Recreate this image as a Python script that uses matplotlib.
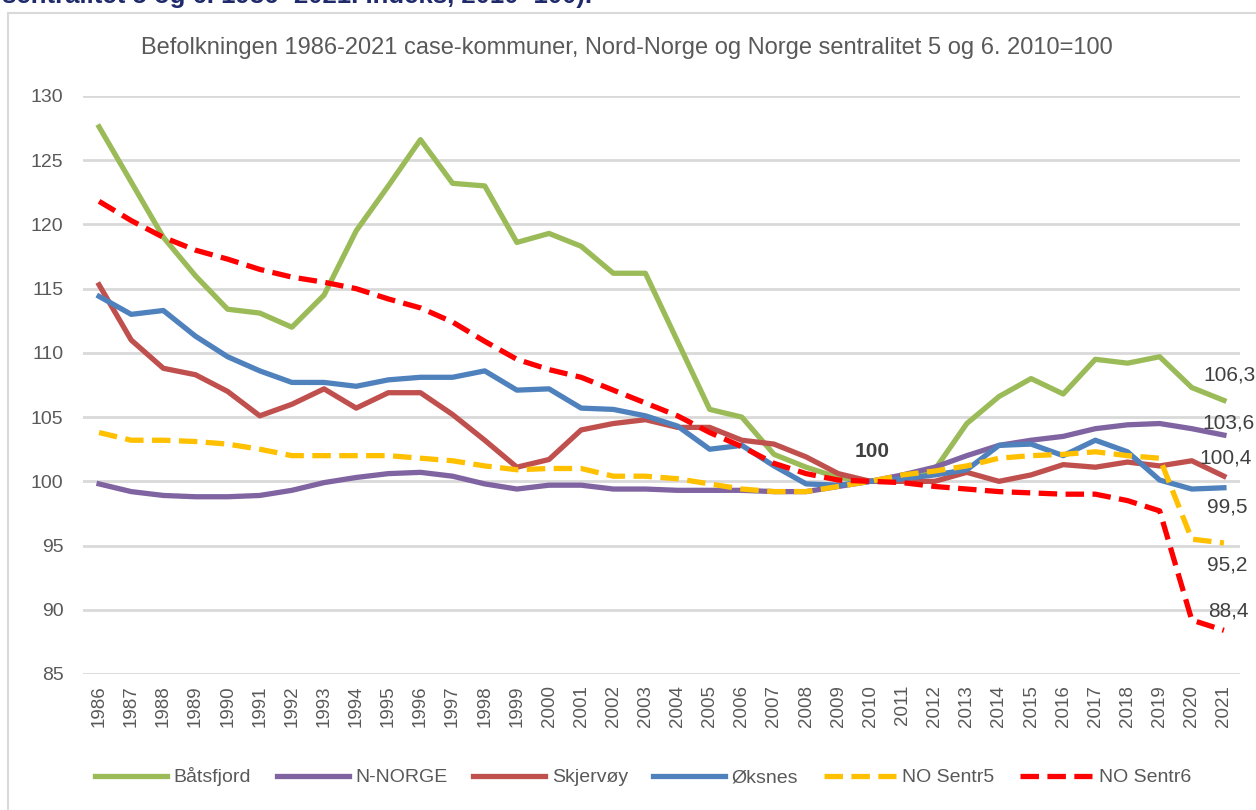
import matplotlib
matplotlib.use("Agg")
import matplotlib.pyplot as plt
from matplotlib.patches import Rectangle

plt.rcParams['font.family'] = ['Liberation Sans', 'DejaVu Sans']

years = list(range(1986, 2022))

batsfjord = [127.6, 123.3, 119.0, 116.0, 113.4, 113.1, 112.0, 114.5, 119.5, 123.0,
             126.6, 123.2, 123.0, 118.6, 119.3, 118.3, 116.2, 116.2, 110.9, 105.6,
             105.0, 102.1, 101.1, 100.3, 100.0, 100.2, 100.9, 104.5, 106.6, 108.0,
             106.8, 109.5, 109.2, 109.7, 107.3, 106.3]
n_norge = [99.8, 99.2, 98.9, 98.8, 98.8, 98.9, 99.3, 99.9, 100.3, 100.6,
           100.7, 100.4, 99.8, 99.4, 99.7, 99.7, 99.4, 99.4, 99.3, 99.3,
           99.3, 99.2, 99.2, 99.6, 100.0, 100.5, 101.1, 102.0, 102.8, 103.2,
           103.5, 104.1, 104.4, 104.5, 104.1, 103.6]
skjervoy = [115.3, 111.0, 108.8, 108.3, 107.0, 105.1, 106.0, 107.2, 105.7, 106.9,
            106.9, 105.2, 103.2, 101.1, 101.7, 104.0, 104.5, 104.8, 104.2, 104.2,
            103.2, 102.9, 101.9, 100.6, 100.0, 100.0, 100.0, 100.7, 100.0, 100.5,
            101.3, 101.1, 101.5, 101.2, 101.6, 100.4]
oksnes = [114.4, 113.0, 113.3, 111.3, 109.7, 108.6, 107.7, 107.7, 107.4, 107.9,
          108.1, 108.1, 108.6, 107.1, 107.2, 105.7, 105.6, 105.1, 104.3, 102.5,
          102.8, 101.2, 99.8, 99.7, 100.0, 100.2, 100.5, 100.9, 102.8, 102.9,
          102.0, 103.2, 102.3, 100.1, 99.4, 99.5]
sentr5 = [103.8, 103.2, 103.2, 103.1, 102.9, 102.5, 102.0, 102.0, 102.0, 102.0,
          101.8, 101.6, 101.2, 100.9, 101.0, 101.0, 100.4, 100.4, 100.2, 99.8,
          99.4, 99.2, 99.2, 99.6, 100.0, 100.5, 100.8, 101.2, 101.8, 102.0,
          102.1, 102.3, 102.0, 101.8, 95.5, 95.2]
sentr6 = [121.8, 120.3, 119.0, 118.0, 117.3, 116.5, 115.9, 115.5, 115.0, 114.2,
          113.5, 112.4, 110.9, 109.5, 108.7, 108.1, 107.1, 106.1, 105.1, 103.8,
          102.7, 101.4, 100.6, 100.1, 100.0, 99.9, 99.6, 99.4, 99.2, 99.1,
          99.0, 99.0, 98.5, 97.7, 89.2, 88.4]

fig = plt.figure(figsize=(12.56, 8.10), dpi=100)
ax = fig.add_axes([83 / 1256, 1 - 674 / 810, (1240 - 83) / 1256, (674 - 96) / 810])

lw = 3.8
ax.plot(years, batsfjord, color='#9BBB59', lw=lw, label='Båtsfjord')
ax.plot(years, n_norge, color='#8064A2', lw=lw, label='N-NORGE')
ax.plot(years, skjervoy, color='#C0504D', lw=lw, label='Skjervøy')
ax.plot(years, oksnes, color='#4F81BD', lw=lw, label='Øksnes')
ax.plot(years, sentr5, color='#FFC000', lw=lw, dashes=(3.5, 1.6), label='NO Sentr5')
ax.plot(years, sentr6, color='#FF0000', lw=lw, dashes=(3.5, 1.6), label='NO Sentr6')

ax.set_xlim(1985.5, 2021.5)
ax.set_ylim(85, 130)
ax.set_yticks(range(85, 131, 5))
ax.set_xticks(years)
ax.set_xticklabels([str(y) for y in years], rotation=90)
ax.tick_params(axis='y', length=0, pad=14, labelsize=14, labelcolor='#595959')
ax.tick_params(axis='x', length=0, pad=8, labelsize=13.5, labelcolor='#595959')
ax.grid(axis='y', color='#D9D9D9', lw=2)
ax.set_axisbelow(True)
for s in ax.spines.values():
    s.set_visible(False)

# value labels at the last year
end_labels = [
    (batsfjord[-1], -21, 25),
    (n_norge[-1], -22, 12),
    (skjervoy[-1], -25, 18),
    (oksnes[-1], -17, -19),
    (sentr5[-1], -17, -22),
    (sentr6[-1], -16, 19),
]
for val, dx, dy in end_labels:
    ax.annotate(f"{val:.1f}".replace('.', ','), xy=(years[-1], val),
                xytext=(dx, dy), textcoords='offset pixels',
                ha='left', va='center', fontsize=15, color='#404040')

ax.annotate("100", xy=(2010, 100), xytext=(2, 30), textcoords='offset pixels',
            ha='center', va='center', fontsize=15, fontweight='bold', color='#404040')

ax.set_title("Befolkningen 1986-2021 case-kommuner, Nord-Norge og Norge sentralitet 5 og 6. 2010=100",
             fontsize=17, color='#595959', pad=30, x=(627 - 83) / (1240 - 83))

fig.legend(loc='center', bbox_to_anchor=(643 / 1256, 1 - 777 / 810), ncol=6,
           frameon=False, fontsize=14, handlelength=3.7, handletextpad=0.35,
           columnspacing=1.3, labelcolor='#595959')

# chart frame and the heading above it
fig.patches.append(Rectangle((8 / 1256, -0.05), 1.1, 1 - 13 / 810 + 0.05,
                             transform=fig.transFigure, fill=False,
                             edgecolor='#D9D9D9', lw=1.5))
fig.text(2 / 1256, 1 - 3 / 810, "sentralitet 5 og 6. 1986- 2021. Indeks, 2010=100).",
         ha='left', va='baseline', fontsize=18.5, fontweight='bold', color='#1F2A6B')

fig.savefig("out.png", dpi=100)
